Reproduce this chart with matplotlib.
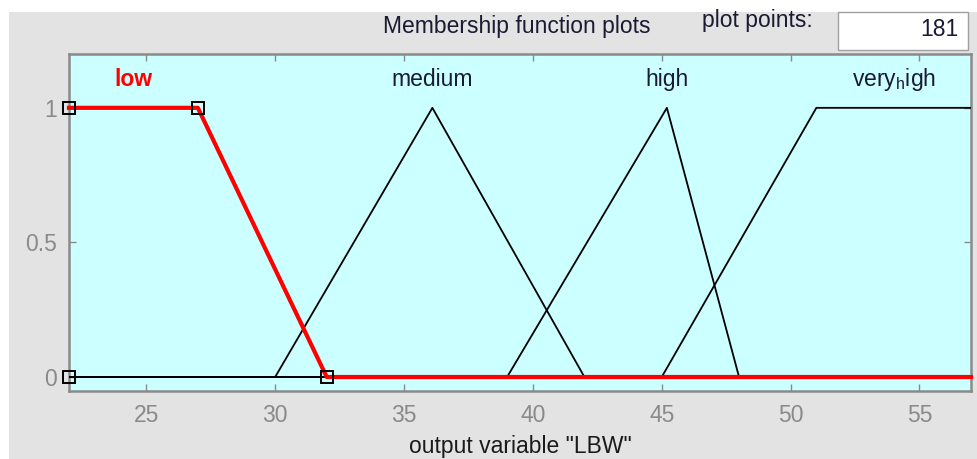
import numpy as np
import matplotlib
matplotlib.use("Agg")
import matplotlib.pyplot as plt
from matplotlib.patches import Rectangle

plt.rcParams['font.family'] = ['Liberation Sans', 'DejaVu Sans']

# membership functions of output variable "LBW"
mfNames  = ["low", "medium", "high", "very$_\\mathregular{h}$igh"]
mfX      = [[22, 27, 32, 57],
            [22, 30, 36.1, 42, 57],
            [22, 39, 45.2, 48, 57],
            [22, 45, 51, 57]]
mfY      = [[1, 1, 0, 0],
            [0, 0, 1, 0, 0],
            [0, 0, 1, 0, 0],
            [0, 0, 1, 1]]
labelX   = [24.5, 36.1, 45.2, 54.0]
xTicks   = [25, 30, 35, 40, 45, 50, 55]
yTicks   = [0, 0.5, 1]
yTickLab = ["0", "0.5", "1"]
# square handles of the selected MF (low)
handleX  = [22, 22, 27, 32]
handleY  = [0, 1, 1, 0]

fs = 16.5
txtCol = "#1a1a33"
bgGray = "#e3e3e3"
fig = plt.figure(figsize=(9.77, 4.59), dpi=100, facecolor="white")
fig.patches.append(Rectangle((9/977, 0), 1, 1 - 12/459, transform=fig.transFigure,
                             facecolor=bgGray, edgecolor="none", zorder=-10))

ax = fig.add_axes([69/977, 1 - 391/459, (971 - 69)/977, (391 - 54)/459])
ax.set_facecolor("#ccffff")
ax.set_xlim(22, 57)
ax.set_ylim(-0.052, 1.2)

for i in range(1, len(mfNames)):
    ax.plot(mfX[i], mfY[i], color="black", linewidth=1.3, zorder=3)
    ax.text(labelX[i], 1.105, mfNames[i], ha="center", va="center",
            fontsize=fs, color=txtCol)

ax.plot(mfX[0], mfY[0], color="red", linewidth=3, zorder=4, clip_on=False)
ax.plot(handleX, handleY, linestyle="", marker="s", markersize=9,
        markerfacecolor="none", markeredgecolor="black", markeredgewidth=1.4,
        zorder=5, clip_on=False)
ax.text(labelX[0], 1.105, mfNames[0], ha="center", va="center",
        fontsize=fs, color="red", fontweight="bold")

ax.set_xticks(xTicks)
ax.set_yticks(yTicks)
ax.set_yticklabels(yTickLab)
ax.tick_params(direction="in", length=5, width=1, colors="#8a8a8a",
               top=True, right=True, labelsize=fs, pad=9)
for s in ax.spines.values():
    s.set_color("#8a8a8a")
    s.set_linewidth(1.8)

ax.set_xlabel('output variable "LBW"', fontsize=fs, color="#1a1a1a", labelpad=6)

fig.text(517/977, 1 - 27/459, "Membership function plots", ha="center", va="center",
         fontsize=fs, color=txtCol)
fig.text(757/977, 1 - 21/459, "plot points:", ha="center", va="center",
         fontsize=fs, color=txtCol)
fig.patches.append(Rectangle((838/977, 1 - 50/459), (968 - 838)/977, 38/459,
                             transform=fig.transFigure, facecolor="white",
                             edgecolor="#a0a0a0", linewidth=1))
fig.text(959/977, 1 - 30/459, "181", ha="right", va="center",
         fontsize=fs, color=txtCol)

fig.savefig("out.png", dpi=100, facecolor=fig.get_facecolor())
